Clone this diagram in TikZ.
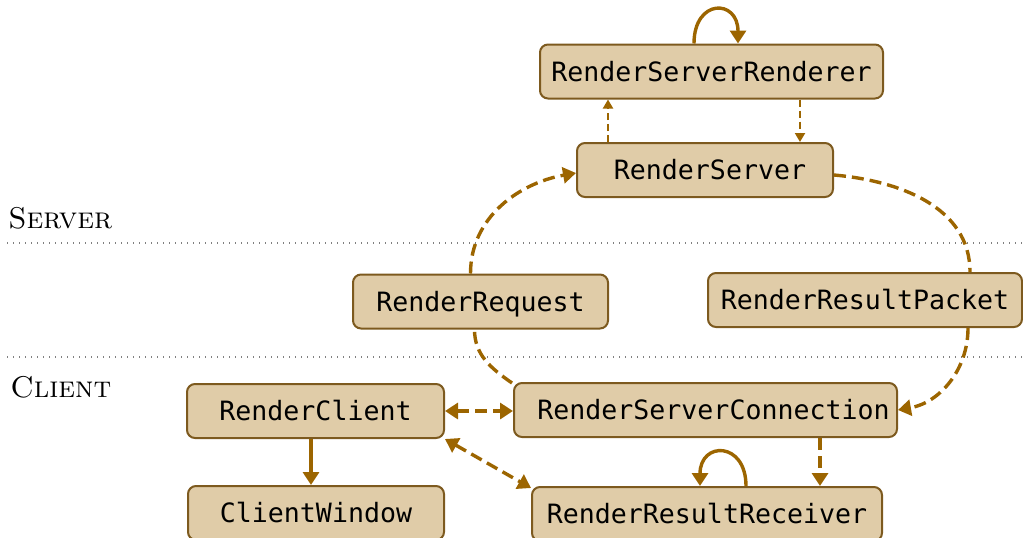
\documentclass[tikz,border=0pt]{standalone}
\usepackage{fontspec}
\setmonofont{DejaVu Sans Mono}
\usetikzlibrary{arrows.meta,calc}

\definecolor{boxfill}{HTML}{E0CCA8}
\definecolor{boxdraw}{HTML}{7D5A1F}
\definecolor{linkc}{HTML}{9C6500}
\definecolor{sepc}{HTML}{808080}

\tikzset{
  cls/.style={draw=boxdraw, fill=boxfill, line width=1pt, rounded corners=4pt,
    minimum height=27pt, inner sep=0pt, text height=9.7pt, text depth=0pt,
    font=\fontsize{13.3}{16}\selectfont\ttfamily},
  lane/.style={anchor=base west, inner sep=0pt, font=\fontsize{15}{18}\selectfont\scshape},
  sep/.style={draw=sepc, line width=0.7pt, dash pattern=on 0.7pt off 2.3pt},
  bigtip/.style={-{Triangle[width=8pt,length=6.5pt]}},
  bothtips/.style={{Triangle[width=8pt,length=6.5pt]}-{Triangle[width=8pt,length=6.5pt]}},
  link/.style={draw=linkc, line width=1.7pt},
  flow/.style={link, dash pattern=on 6pt off 3pt},
  call/.style={draw=linkc, line width=1pt, dash pattern=on 3.5pt off 2pt,
    -{Triangle[width=5pt,length=4.5pt]}},
}

\begin{document}
\begin{tikzpicture}[x=0.5pt,y=-0.5pt]
\useasboundingbox (0,0) rectangle (1023,537);

% tier separators and their titles
\coordinate (s1a) at (7,243);  \coordinate (s1b) at (1023,243);
\coordinate (s2a) at (7,357);  \coordinate (s2b) at (1023,357);
\draw[sep] (s1a) -- (s1b);
\draw[sep] (s2a) -- (s2b);
\node[lane] (server) at (8,228) {Server};
\node[lane] (client) at (10,397) {Client};

% classes
\node[cls, minimum width=171.5pt] (rsr)  at (711.5,71.5) {RenderServerRenderer};
\node[cls, minimum width=128pt]   (rs)   at (705,170)    {\hspace*{5pt}RenderServer};
\node[cls, minimum width=127.5pt] (rreq) at (480.5,301.5) {RenderRequest};
\node[cls, minimum width=157pt]   (rrp)  at (865,300)    {RenderResultPacket};
\node[cls, minimum width=128.5pt] (rc)   at (315.5,411)  {RenderClient};
\node[cls, minimum width=191.5pt] (rsc)  at (705.5,410)  {\hspace*{8pt}RenderServerConnection};
\node[cls, minimum width=128pt]   (cw)   at (316,513)    {ClientWindow};
\node[cls, minimum width=175pt]   (rrr)  at (707,514)    {RenderResultReceiver};

% attachment points on the boxes
\coordinate (rsUp)    at ($(rs.north)+(-97,0)$);
\coordinate (rsrDown) at ($(rsr.south)+(88.5,0)$);
\coordinate (rcDown)  at ($(rc.south)+(-4.5,0)$);
\coordinate (rscDown) at ($(rsc.south)+(114.5,0)$);

% self loops
\draw[link, bigtip] ($(rsr.north)+(-17.5,0)$) .. controls +(0,-45) and +(0,-45) .. ($(rsr.north)+(26.5,0)$);
\draw[link, bigtip] ($(rrr.north)+(39,0)$) .. controls +(0,-45) and +(0,-45) .. ($(rrr.north)+(-7,0)$);

% server side calls
\draw[call] (rsUp) -- (rsUp |- rsr.south);
\draw[call] (rsrDown) -- (rsrDown |- rs.north);

% request / result round trip
\draw[flow, bigtip] ($(rreq.north)+(-10,0)$) to[out=90, in=190] ($(rs.west)+(0,3)$);
\draw[flow] ($(rs.east)+(0,5)$) to[out=-5, in=90] ($(rrp.north)+(105,0)$);
\draw[flow, bigtip] ($(rrp.south)+(103,0)$) to[out=-90, in=10] (rsc.east);
\draw[flow] ($(rsc.north west)+(-1,1)$) to[out=145, in=-90] ($(rreq.south)+(-6,0)$);

% client side
\draw[flow, bothtips] (rc.east) -- (rsc.west |- rc.east);
\draw[flow, bothtips] (rc.south east) -- ($(rrr.north west)+(0,2)$);
\draw[link, bigtip] (rcDown) -- (rcDown |- cw.north);
\draw[flow, bigtip] (rscDown) -- (rscDown |- rrr.north);
\end{tikzpicture}
\end{document}
